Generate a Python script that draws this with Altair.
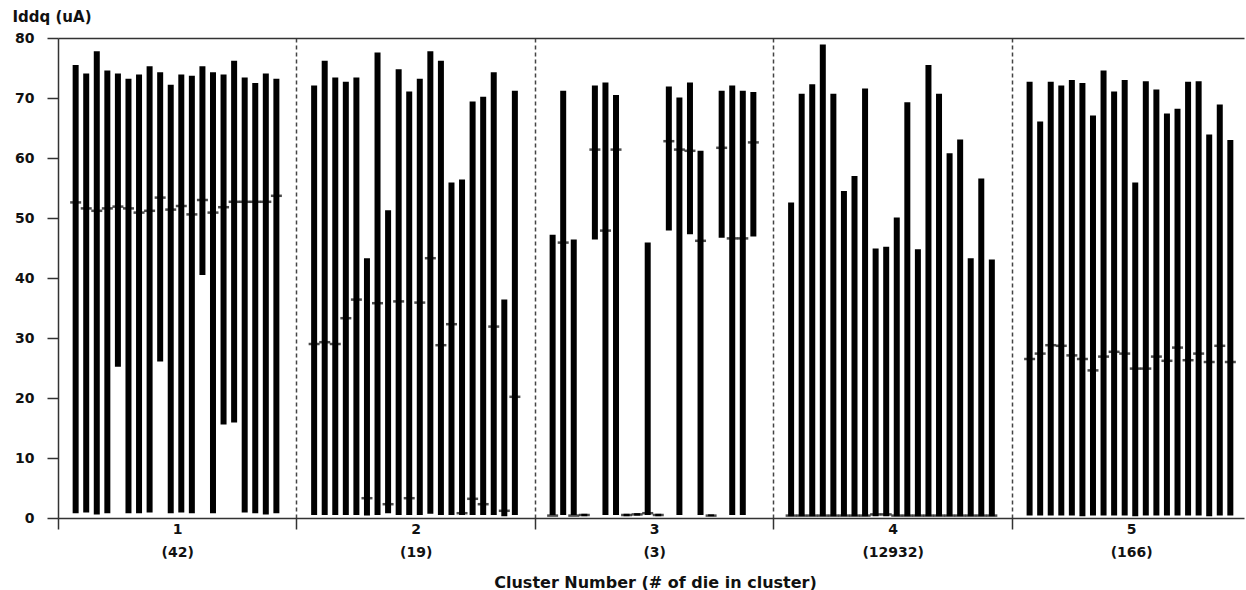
import json
import altair as alt
import pandas as pd

# ---------------- data ----------------
cluster_ids = ["1", "2", "3", "4", "5"]
cluster_counts = ["(42)", "(19)", "(3)", "(12932)", "(166)"]

max1 = [75.5, 74.1, 77.8, 74.6, 74.1, 73.2, 73.9, 75.3, 74.3, 72.2, 73.9, 73.7, 75.3, 74.3, 73.9, 76.2, 73.4, 72.5, 74.1, 73.2]
min1 = [0.8, 0.9, 0.6, 0.8, 25.2, 0.8, 0.8, 0.9, 26.1, 0.8, 0.9, 0.8, 40.5, 0.8, 15.6, 15.9, 0.9, 0.8, 0.6, 0.8]
med1 = [52.6, 51.6, 51.2, 51.6, 51.9, 51.6, 50.9, 51.2, 53.4, 51.4, 52.0, 50.6, 53.0, 50.9, 51.8, 52.7, 52.7, 52.7, 52.7, 53.7]

max2 = [72.1, 76.2, 73.4, 72.7, 73.4, 43.3, 77.6, 51.3, 74.8, 71.1, 73.2, 77.8, 76.2, 55.9, 56.4, 69.4, 70.2, 74.3, 36.4, 71.2]
min2 = [0.5, 0.5, 0.5, 0.5, 0.5, 0.4, 0.5, 0.8, 0.5, 0.5, 0.5, 0.7, 0.5, 0.5, 0.5, 0.5, 0.5, 0.5, 0.3, 0.5]
med2 = [29.0, 29.3, 29.0, 33.3, 36.4, 3.3, 35.8, 2.3, 36.1, 3.3, 35.9, 43.3, 28.8, 32.3, 0.8, 3.2, 2.3, 31.9, 1.2, 20.2]

max3 = [47.2, 71.2, 46.4, 0.7, 72.1, 72.6, 70.5, 0.7, 0.8, 45.9, 0.7, 71.9, 70.1, 72.6, 61.2, 0.6, 71.2, 72.1, 71.2, 71.0]
min3 = [0.5, 0.5, 0.5, 0.3, 46.4, 0.5, 0.5, 0.3, 0.4, 0.5, 0.3, 47.9, 0.5, 47.3, 0.5, 0.3, 46.7, 0.5, 0.5, 46.9]
med3 = [0.4, 45.9, 0.4, 0.5, 61.4, 47.9, 61.4, 0.5, 0.6, 0.8, 0.5, 62.8, 61.4, 61.2, 46.2, 0.4, 61.7, 46.6, 46.6, 62.6]

max4 = [52.6, 70.7, 72.3, 78.9, 70.7, 54.5, 57.0, 71.6, 44.9, 45.2, 50.1, 69.3, 44.8, 75.5, 70.7, 60.8, 63.1, 43.3, 56.6, 43.1]
min4 = [0.3, 0.3, 0.3, 0.3, 0.3, 0.3, 0.3, 0.3, 0.3, 0.3, 0.3, 0.3, 0.3, 0.3, 0.3, 0.3, 0.3, 0.3, 0.3, 0.3]
med4 = [0.4, 0.4, 0.4, 0.4, 0.4, 0.4, 0.4, 0.4, 0.6, 0.6, 0.4, 0.4, 0.4, 0.4, 0.4, 0.4, 0.4, 0.4, 0.4, 0.4]

max5 = [72.7, 66.1, 72.7, 72.1, 73.0, 72.5, 67.1, 74.6, 71.1, 73.0, 55.9, 72.8, 71.4, 67.4, 68.2, 72.7, 72.8, 63.9, 68.9, 63.0]
min5 = [0.4, 0.4, 0.4, 0.4, 0.4, 0.3, 0.4, 0.4, 0.4, 0.4, 0.3, 0.4, 0.4, 0.4, 0.4, 0.4, 0.4, 0.3, 0.4, 0.4]
med5 = [26.5, 27.4, 28.8, 28.7, 27.1, 26.5, 24.6, 26.9, 27.7, 27.4, 24.9, 24.9, 26.9, 26.2, 28.4, 26.3, 27.4, 26.0, 28.7, 26.0]

y_ticks = [0, 10, 20, 30, 40, 50, 60, 70, 80]

# ---------------- build table ----------------
maxes = [max1, max2, max3, max4, max5]
mins = [min1, min2, min3, min4, min5]
meds = [med1, med2, med3, med4, med5]
rows = []
for c in range(5):
    for i in range(20):
        rows.append({"c": c, "i": i, "lo": mins[c][i], "hi": maxes[c][i], "med": meds[c][i]})
df = pd.DataFrame(rows)

label_lines = [[a, b] for a, b in zip(cluster_ids, cluster_counts)]
x_values = [0, 0.5, 1, 1.5, 2, 2.5, 3, 3.5, 4, 4.5]

FONT = "DejaVu Sans"
AX = "#333333"

x_axis = alt.Axis(
    values=x_values,
    title="Cluster Number (# of die in cluster)",
    titleFont=FONT, titleFontSize=16, titleFontWeight="bold", titleColor="#111111",
    titleBaseline="alphabetic", titleY=69, titleX=597,
    labelExpr="datum.value % 1 == 0 ? '' : " + json.dumps(label_lines) + "[floor(datum.value)]",
    labelFont=FONT, labelFontSize=14, labelFontWeight="bold", labelColor="#111111",
    labelLineHeight=23, labelPadding=-7, labelBaseline="top", labelFlush=False,
    labelOverlap=False,
    tickSize=11, tickColor=AX, tickWidth=1.5,
    tickOpacity={"condition": {"test": "datum.value % 1 != 0", "value": 0}, "value": 1},
    domainColor=AX, domainWidth=1.5,
    grid=True, gridColor="#444444", gridDash=[4, 3], gridWidth=1.5,
    gridOpacity={"condition": {"test": "datum.value % 1 == 0 && datum.value > 0", "value": 1}, "value": 0},
)
y_axis = alt.Axis(
    values=y_ticks,
    title="Iddq (uA)",
    titleFont=FONT, titleFontSize=15, titleFontWeight="bold", titleColor="#111111",
    titleAngle=0, titleAlign="left", titleBaseline="alphabetic", titleX=-46, titleY=-17,
    labelFont=FONT, labelFontSize=14, labelFontWeight="bold", labelColor="#111111",
    labelPadding=13,
    tickSize=11, tickColor=AX, tickWidth=1.5,
    domainColor=AX, domainWidth=1.5,
    grid=True, gridColor=AX, gridWidth=1.5,
    gridOpacity={"condition": {"test": "datum.value == 80", "value": 1}, "value": 0},
)

x_scale = alt.Scale(domain=[0, 4.973], nice=False, zero=False)
y_scale = alt.Scale(domain=[0, 80], nice=False)

base = alt.Chart(df).transform_calculate(pos="datum.c + 0.074 + datum.i * 0.0443")

bars = base.mark_rule(strokeWidth=6, color="black", strokeCap="butt").encode(
    x=alt.X("pos:Q", scale=x_scale, axis=x_axis),
    y=alt.Y("lo:Q", scale=y_scale, axis=y_axis),
    y2="hi:Q",
)
meds_layer = base.mark_tick(orient="horizontal", size=11, thickness=2.5, color="black").encode(
    x=alt.X("pos:Q", scale=x_scale, axis=x_axis),
    y=alt.Y("med:Q", scale=y_scale, axis=y_axis),
)

chart = (
    alt.layer(bars, meds_layer)
    .properties(
        width=1186,
        height=480,
        autosize=alt.AutoSizeParams(type="none"),
        padding={"left": 58, "top": 38, "right": 2, "bottom": 72},
        background="white",
    )
    .configure_view(strokeWidth=0)
)

chart.save("out.html", embed_options={"renderer": "svg", "actions": False})
